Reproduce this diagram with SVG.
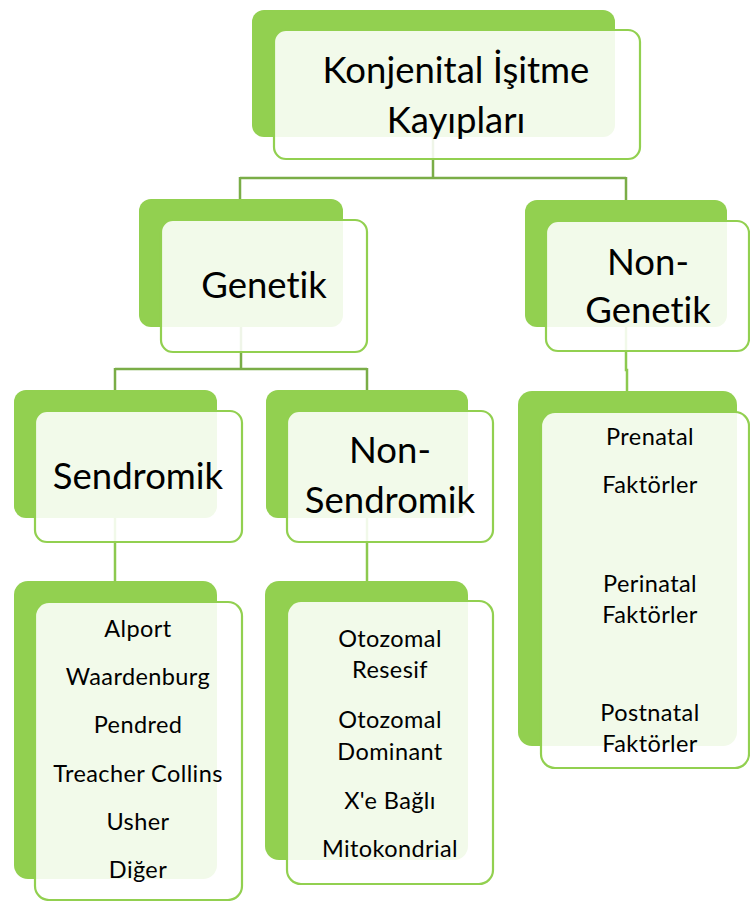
<svg xmlns="http://www.w3.org/2000/svg" width="750" height="901" viewBox="0 0 750 901">
<style>
.back{fill:#92d050}
.front{fill:#ffffff;fill-opacity:0.88;stroke:#92d050;stroke-width:2.2}
.big{font-family:Lato,"Liberation Sans",sans-serif;font-size:36.5px;fill:#000;text-anchor:middle;font-variant-ligatures:none}
.small{font-family:Lato,"Liberation Sans",sans-serif;font-size:23.5px;letter-spacing:0.4px;fill:#000;text-anchor:middle;font-variant-ligatures:none}
.c1{fill:none;stroke:#7aad47;stroke-width:2.5}
.c2{fill:none;stroke:#8cc94f;stroke-width:2.5}
</style>
<rect width="750" height="901" fill="#fff"/>
<g id="connectors">
<path class="c1" d="M433 137V178M240 178H626M240 177V199M626 177V200"/>
<path class="c1" d="M241 327V369M115 369H367M115 368V390M367 368V390"/>
<path class="c2" d="M626 327V370H627V391"/>
<path class="c2" d="M115 518V581"/>
<path class="c2" d="M367 518V581"/>
</g>
<g id="node-root">
<rect class="back" x="252" y="10" width="363" height="127" rx="12"/>
<rect class="front" x="274" y="30" width="366" height="129" rx="12"/>
<text class="big" x="456" y="83">Konjenital İşitme</text>
<text class="big" x="456" y="133">Kayıpları</text>
</g>
<g id="node-genetik">
<rect class="back" x="139" y="199" width="204" height="128" rx="12"/>
<rect class="front" x="161" y="220" width="206" height="132" rx="12"/>
<text class="big" x="264" y="298">Genetik</text>
</g>
<g id="node-nongenetik">
<rect class="back" x="525" y="200" width="202" height="127" rx="12"/>
<rect class="front" x="546" y="221" width="203" height="130" rx="12"/>
<text class="big" x="648" y="275">Non-</text>
<text class="big" x="648" y="323">Genetik</text>
</g>
<g id="node-sendromik">
<rect class="back" x="14" y="390" width="203" height="128" rx="12"/>
<rect class="front" x="35" y="411" width="207" height="131" rx="12"/>
<text class="big" x="138" y="489">Sendromik</text>
</g>
<g id="node-nonsendromik">
<rect class="back" x="266" y="390" width="202" height="128" rx="12"/>
<rect class="front" x="287" y="411" width="206" height="131" rx="12"/>
<text class="big" x="390" y="463">Non-</text>
<text class="big" x="390" y="513">Sendromik</text>
</g>
<g id="node-sendromik-list">
<rect class="back" x="14" y="581" width="203" height="298" rx="14"/>
<rect class="front" x="35" y="602" width="207" height="298" rx="14"/>
<text class="small" x="138" y="637">Alport</text>
<text class="small" x="138" y="685">Waardenburg</text>
<text class="small" x="138" y="733">Pendred</text>
<text class="small" x="138" y="782">Treacher Collins</text>
<text class="small" x="138" y="830">Usher</text>
<text class="small" x="138" y="878">Diğer</text>
</g>
<g id="node-nonsendromik-list">
<rect class="back" x="265" y="581" width="203" height="279" rx="14"/>
<rect class="front" x="287" y="601" width="206" height="283" rx="14"/>
<text class="small" x="390" y="647">Otozomal</text>
<text class="small" x="390" y="678">Resesif</text>
<text class="small" x="390" y="728">Otozomal</text>
<text class="small" x="390" y="760">Dominant</text>
<text class="small" x="390" y="809">X'e Bağlı</text>
<text class="small" x="390" y="857">Mitokondrial</text>
</g>
<g id="node-nongenetik-list">
<rect class="back" x="518" y="391" width="219" height="355" rx="14"/>
<rect class="front" x="541" y="412" width="208" height="356" rx="14"/>
<text class="small" x="650" y="445">Prenatal</text>
<text class="small" x="650" y="493">Faktörler</text>
<text class="small" x="650" y="592">Perinatal</text>
<text class="small" x="650" y="623">Faktörler</text>
<text class="small" x="650" y="721">Postnatal</text>
<text class="small" x="650" y="752">Faktörler</text>
</g>
</svg>
